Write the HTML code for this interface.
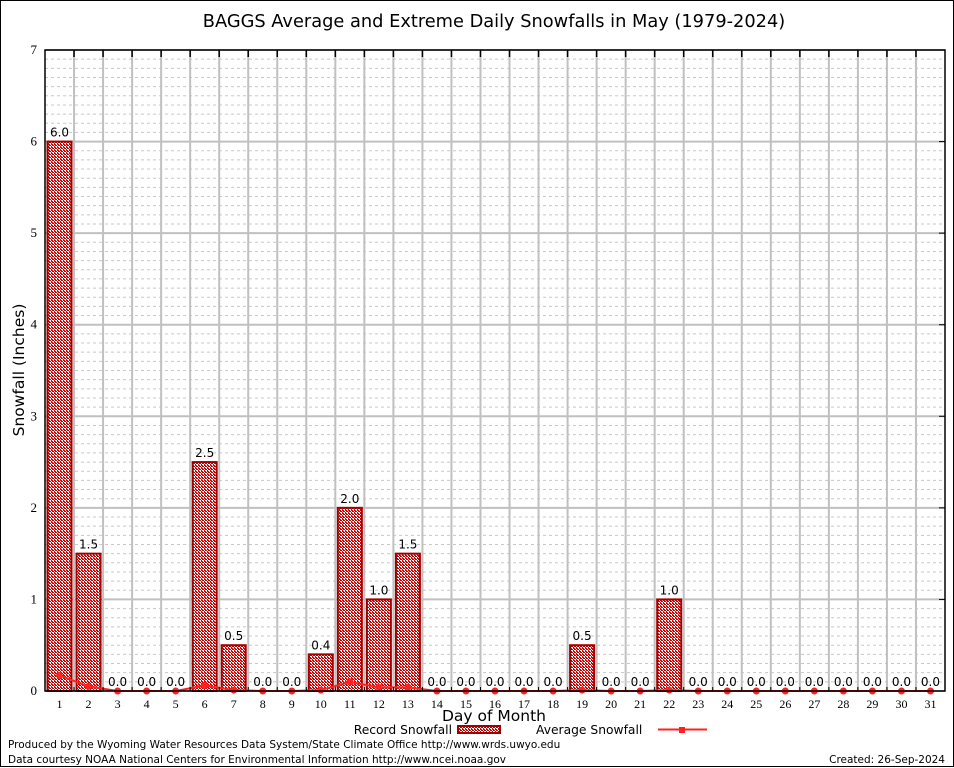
<!DOCTYPE html>
<html><head><meta charset="utf-8"><style>
html,body{margin:0;padding:0;background:#fff;}
svg{display:block;font-family:"DejaVu Sans","Liberation Sans",sans-serif;}
</style></head><body>
<svg id="chart" width="954" height="768" viewBox="0 0 954 768">
<defs>
<pattern id="dots" width="3" height="3" patternUnits="userSpaceOnUse">
<rect width="3" height="3" fill="#fff"/>
<rect x="0" y="0" width="2" height="1" fill="#e00000"/>
<rect x="1" y="1" width="2" height="1" fill="#c00000"/>
<rect x="0" y="2" width="1" height="1" fill="#e00000"/>
</pattern>
</defs>
<rect x="0.5" y="0.5" width="953" height="766" fill="#fff" stroke="#000"/>
<text x="494" y="27" font-size="17.8" text-anchor="middle">BAGGS Average and Extreme Daily Snowfalls in May (1979-2024)</text>
<g id="grid"></g>
<g id="bars"></g>
<g id="avg"></g>
<g id="axes"></g>
<text transform="translate(24,370) rotate(-90)" font-size="15.5" text-anchor="middle">Snowfall (Inches)</text>
<text x="494" y="721" font-size="15.5" text-anchor="middle">Day of Month</text>
<g>
<text x="452" y="734" font-size="12.3" text-anchor="end">Record Snowfall</text>
<rect x="458" y="726" width="42" height="7" fill="url(#dots)" stroke="#a00000" stroke-width="2"/>
<text x="536" y="734" font-size="12.3">Average Snowfall</text>
<line x1="658" y1="729.5" x2="707" y2="729.5" stroke="#ff2020" stroke-width="2"/>
<rect x="679" y="727" width="6" height="6" fill="#ff2020"/>
</g>
<text x="8" y="748" font-size="10.5">Produced by the Wyoming Water Resources Data System/State Climate Office http://www.wrds.uwyo.edu</text>
<text x="8" y="763" font-size="10.5">Data courtesy NOAA National Centers for Environmental Information http://www.ncei.noaa.gov</text>
<text x="945" y="763" font-size="10.5" text-anchor="end">Created: 26-Sep-2024</text>
</svg>
<script>
const days = [1,2,3,4,5,6,7,8,9,10,11,12,13,14,15,16,17,18,19,20,21,22,23,24,25,26,27,28,29,30,31];
const recordSnow = [6.0,1.5,0,0,0,2.5,0.5,0,0,0.4,2.0,1.0,1.5,0,0,0,0,0,0.5,0,0,1.0,0,0,0,0,0,0,0,0,0];
const avgSnow = [0.17,0.05,0,0,0,0.06,0.01,0,0,0.01,0.10,0.04,0.04,0,0,0,0,0,0.01,0,0,0.01,0,0,0,0,0,0,0,0,0];
const yTicks = [0,1,2,3,4,5,6,7];

const L=45,R=945,T=50,B=691,YMAX=7;
const slot=(R-L)/days.length;
const xC=d=>L+(d-0.5)*slot;
const y=v=>B-(v/YMAX)*(B-T);
const NS="http://www.w3.org/2000/svg";
function mk(tag,attrs,parent){const e=document.createElementNS(NS,tag);for(const k in attrs)e.setAttribute(k,attrs[k]);parent.appendChild(e);return e;}
const grid=document.getElementById('grid'),bars=document.getElementById('bars'),avg=document.getElementById('avg'),axes=document.getElementById('axes');

for(let i=1;i<YMAX*10;i++){if(i%10===0)continue;
 const g=mk('line',{x1:L,x2:R,y1:y(i/10),y2:y(i/10),stroke:'#c8c8c8','stroke-width':1,'stroke-dasharray':'3,3'},grid);
 
 }
yTicks.forEach(t=>{
 const g=mk('line',{x1:L,x2:R,y1:y(t),y2:y(t),stroke:'#c0c0c0','stroke-width':2},grid);
 
 
 const lb=mk('text',{x:L-8,y:y(t)+4,'font-size':13,'text-anchor':'end','font-family':'Liberation Serif, serif'},axes);
 lb.textContent=t;
 
 
 const tk=mk('line',{x1:R-6,x2:R,y1:y(t),y2:y(t),stroke:'#000'},axes);
 
 
});
for(let k=1;k<days.length;k++){const x=L+k*slot;
 const g=mk('line',{x1:x,x2:x,y1:T,y2:B,stroke:'#c0c0c0','stroke-width':2},grid);
 
 
 const tk=mk('line',{x1:x,x2:x,y1:T,y2:T+7,stroke:'#000','stroke-width':1.5},axes);
 
 
 const tb=mk('line',{x1:x,x2:x,y1:B-4,y2:B,stroke:'#000'},axes);
 
 }
days.forEach((d,i)=>{const v=recordSnow[i];
 if(v>0){const r=mk('rect',{x:xC(d)-12,y:y(v),width:24,height:B-y(v),fill:'url(#dots)',stroke:'#a00000','stroke-width':2},bars);
  
  }
 const t=mk('text',{x:xC(d),y:y(v)-5,'font-size':12,'text-anchor':'middle'},bars);
 t.textContent=v.toFixed(1);
 
 
 const xl=mk('text',{x:xC(d),y:B+17,'font-size':12,'text-anchor':'middle','font-family':'Liberation Serif, serif'},axes);
 xl.textContent=d;
 
 
});
const pl=mk('polyline',{points:days.map((d,i)=>xC(d)+','+y(avgSnow[i])).join(' '),fill:'none',stroke:'#ff2020','stroke-width':2},avg);


days.forEach((d,i)=>{const m=mk('circle',{cx:xC(d),cy:y(avgSnow[i]),r:3.5,fill:'#ff2020'},avg);
 
 });
const fr=mk('rect',{x:L,y:T,width:R-L,height:B-T,fill:'none',stroke:'#000','stroke-width':1.5},axes);


</script>
</body></html>
